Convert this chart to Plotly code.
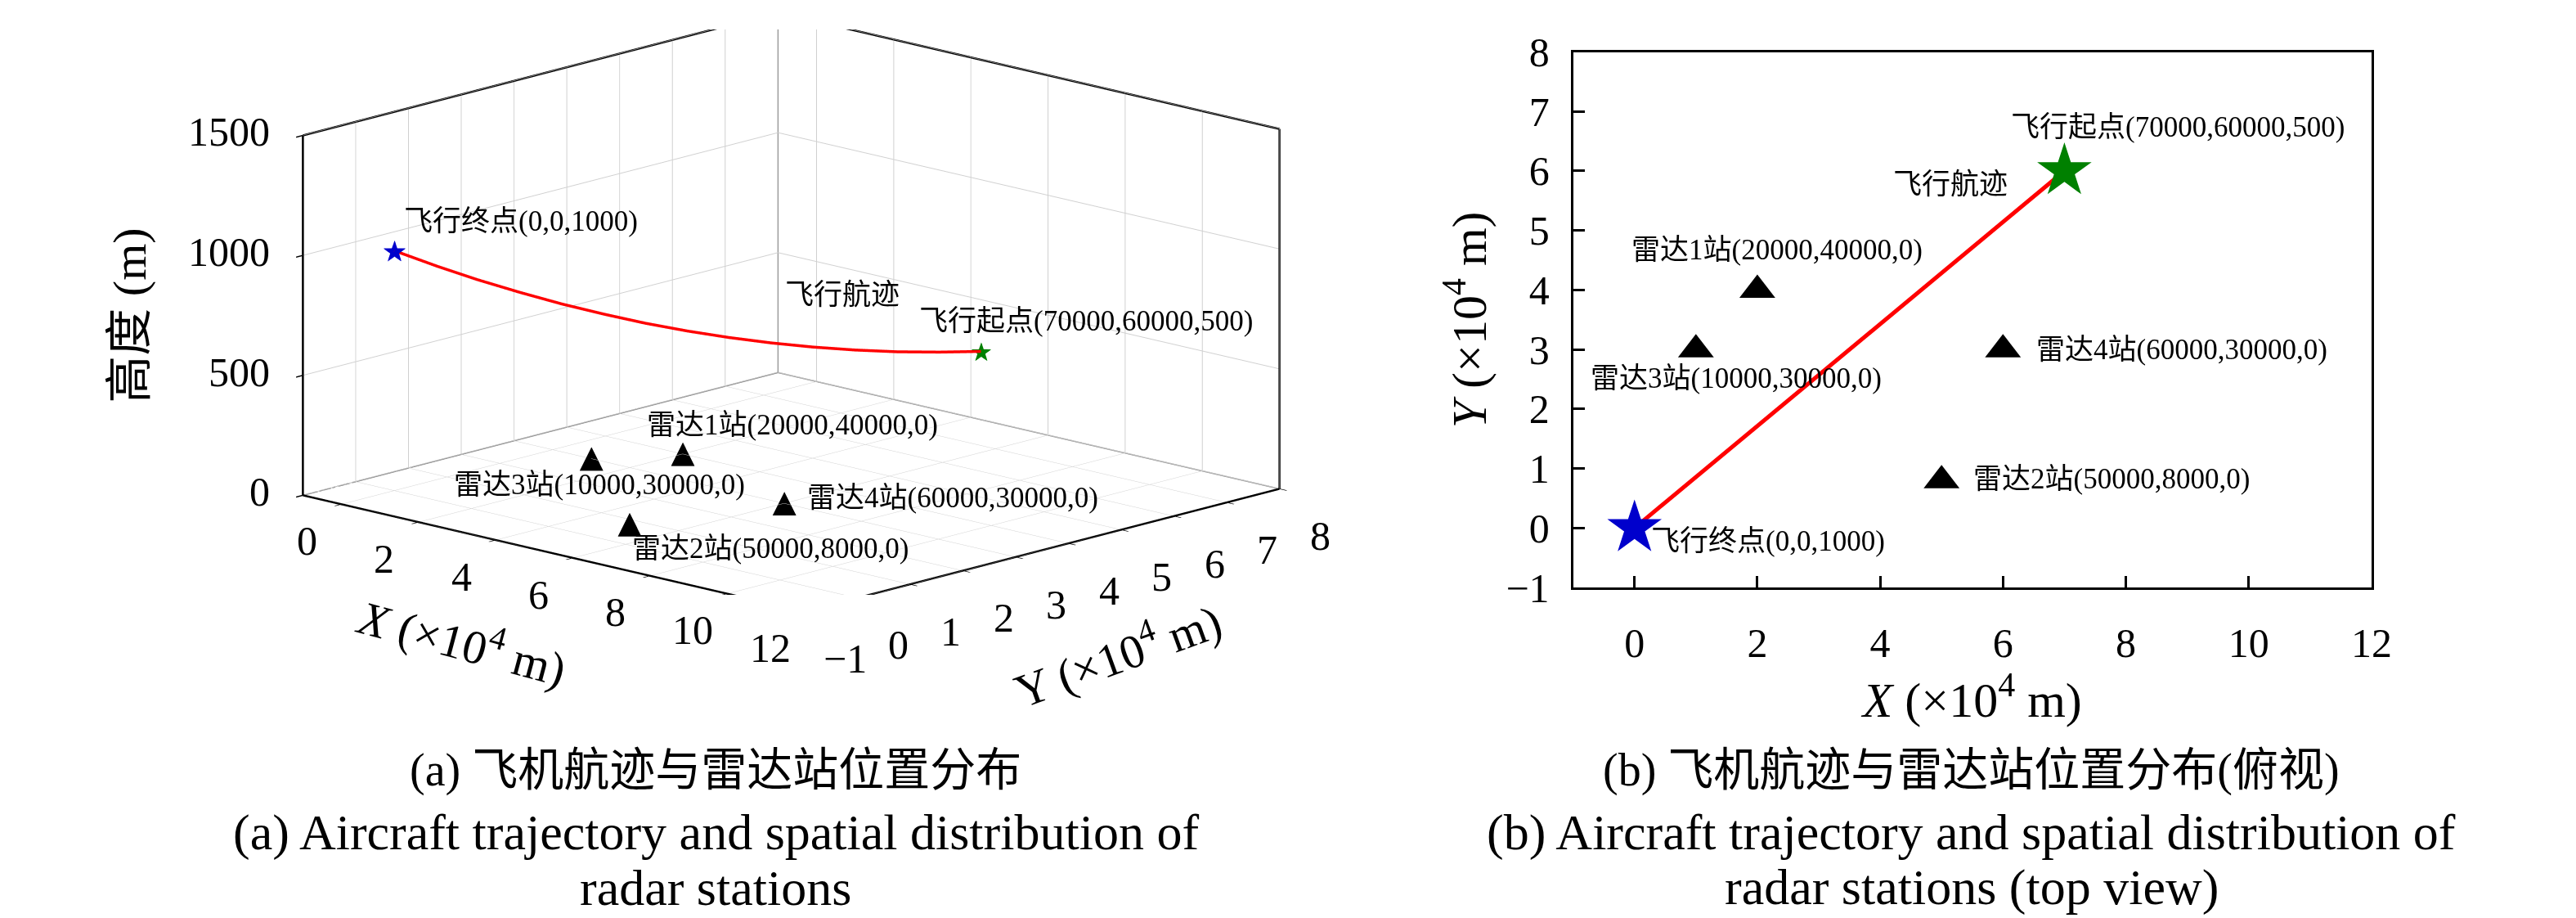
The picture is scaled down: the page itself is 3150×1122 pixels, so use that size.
import numpy as np
import plotly.graph_objects as go

# flight track (m), sampled along the path, end point first
track_x = [0, 5000, 10000, 15000, 20000, 25000, 30000, 35000,
           40000, 45000, 50000, 55000, 60000, 65000, 70000]
track_y = [0, 4286, 8571, 12857, 17143, 21429, 25714, 30000,
           34286, 38571, 42857, 47143, 51429, 55714, 60000]
track_z = [1000, 931, 867, 809, 755, 707, 663, 625,
           592, 564, 541, 523, 510, 503, 500]

radar_names = ["雷达1站", "雷达2站", "雷达3站", "雷达4站"]
radar_x = [20000, 50000, 10000, 60000]
radar_y = [40000, 8000, 30000, 30000]
radar_z = [0, 0, 0, 0]

x_range = [-1, 12]
y_range = [-1, 8]
z_range = [0, 1500]
x_ticks = [0, 2, 4, 6, 8, 10, 12]
y_ticks = [-1, 0, 1, 2, 3, 4, 5, 6, 7, 8]
z_ticks = [0, 500, 1000, 1500]

FONT = "Liberation Serif, Noto Sans CJK SC, serif"
SCALE = 1e4

tx = np.array(track_x) / SCALE
ty = np.array(track_y) / SCALE
tz = np.array(track_z)
rx = np.array(radar_x) / SCALE
ry = np.array(radar_y) / SCALE
rz = np.array(radar_z)

end_label = "飞行终点(%d,%d,%d)" % (track_x[0], track_y[0], track_z[0])
start_label = "飞行起点(%d,%d,%d)" % (track_x[-1], track_y[-1], track_z[-1])
radar_labels = ["%s(%d,%d,%d)" % (n, a, b, c)
                for n, a, b, c in zip(radar_names, radar_x, radar_y, radar_z)]


def tick_text(v):
    return str(v).replace("-", "−")


fig = go.Figure()

# ---------- 3D panel ----------
x0, x1 = x_range
y0, y1 = y_range
z0, z1 = z_range
black_edges = [
    ([x0, x0], [y0, y0], [z0, z1]),
    ([x1, x1], [y1, y1], [z0, z1]),
    ([x0, x0, x1], [y0, y1, y1], [z1, z1, z1]),
]
gray_edges = [
    ([x0, x0], [y1, y1], [z0, z1]),
    ([x0, x0, x1], [y0, y1, y1], [z0, z0, z0]),
]
for ex, ey, ez in gray_edges:
    fig.add_trace(go.Scatter3d(x=ex, y=ey, z=ez, mode="lines",
                               line=dict(color="#808080", width=3),
                               hoverinfo="skip", showlegend=False))
for ex, ey, ez in black_edges:
    fig.add_trace(go.Scatter3d(x=ex, y=ey, z=ez, mode="lines",
                               line=dict(color="black", width=5),
                               hoverinfo="skip", showlegend=False))

fig.add_trace(go.Scatter3d(x=tx, y=ty, z=tz, mode="lines",
                           line=dict(color="#ff0000", width=7),
                           hoverinfo="skip", showlegend=False))
glyph = dict(mode="text", textposition="middle center", hoverinfo="skip", showlegend=False)
fig.add_trace(go.Scatter3d(x=rx, y=ry, z=rz, text=["▲"] * len(rx),
                           textfont=dict(size=38, color="black", family="DejaVu Sans"), **glyph))
fig.add_trace(go.Scatter3d(x=[tx[0]], y=[ty[0]], z=[tz[0]], text=["★"],
                           textfont=dict(size=36, color="#0000cc", family="DejaVu Sans"), **glyph))
fig.add_trace(go.Scatter3d(x=[tx[-1]], y=[ty[-1]], z=[tz[-1]], text=["★"],
                           textfont=dict(size=32, color="#008000", family="DejaVu Sans"), **glyph))

lab_font = dict(family=FONT, size=35, color="black")
tick_font = dict(family=FONT, size=50, color="black")
title_font = dict(family=FONT, size=58, color="black")

# label offsets in pixels: (xanchor, xshift, yshift)
radar_lab_3d = [("left", -46, 35), ("left", 1, -30), ("center", 10, -32), ("left", 26, 6)]
scene_ann = [
    dict(x=tx[0], y=ty[0], z=tz[0], text=end_label, showarrow=False,
         xanchor="left", xshift=10, yshift=36, font=lab_font),
    dict(x=tx[-1], y=ty[-1], z=tz[-1], text=start_label, showarrow=False,
         xanchor="left", xshift=-77, yshift=37, font=lab_font),
    dict(x=tx[10], y=ty[10], z=tz[10], text="飞行航迹", showarrow=False,
         xanchor="center", xshift=35, yshift=64, font=lab_font),
]
for i, (anc, dx, dy) in enumerate(radar_lab_3d):
    scene_ann.append(dict(x=rx[i], y=ry[i], z=rz[i], text=radar_labels[i], showarrow=False,
                          xanchor=anc, xshift=dx, yshift=dy, font=lab_font))

# tick labels and axis titles of the 3D box (placed on the front edges)
for v in x_ticks:
    scene_ann.append(dict(x=v, y=y0, z=z0, text=tick_text(v), showarrow=False,
                          xshift=-42, yshift=-45, font=tick_font))
for v in y_ticks:
    scene_ann.append(dict(x=x1, y=v, z=z0, text=tick_text(v), showarrow=False,
                          xshift=50, yshift=-58, font=tick_font))
for v in z_ticks:
    scene_ann.append(dict(x=x0, y=y0, z=v, text=tick_text(v), showarrow=False,
                          xanchor="right", xshift=-38, yshift=4, font=tick_font))
scene_ann += [
    dict(x=(x0 + x1) / 2, y=y0, z=z0, text="<i>X</i> (×10<sup>4</sup> m)", showarrow=False,
         textangle=15, xshift=-111, yshift=-106, font=title_font),
    dict(x=x1, y=(y0 + y1) / 2, z=z0, text="Y (×10<sup>4</sup> m)", showarrow=False,
         textangle=-20, xshift=92, yshift=-126, font=title_font),
    dict(x=x0, y=y0, z=(z0 + z1) / 2, text="高度 (m)", showarrow=False,
         textangle=-90, xshift=-212, yshift=0, font=title_font),
]

axis3d = dict(showbackground=False, gridcolor="#d0d0d0", gridwidth=2,
              zeroline=False, showline=True, linecolor="black", linewidth=5,
              ticks="inside", ticklen=12, tickwidth=3, tickcolor="black",
              showticklabels=False, title=dict(text=""),
              showspikes=False)
el = np.radians(14.16)
az = np.radians(43.45)
dist = 4.0
zoom = 2.445
eye = dict(x=dist * np.sin(az) * np.cos(el),
           y=-dist * np.cos(az) * np.cos(el),
           z=dist * np.sin(el))

fig.update_layout(scene=dict(
    domain=dict(x=[0.0, 0.614], y=[0.3521, 1.0]),
    xaxis=dict(axis3d, range=x_range, tickvals=x_ticks),
    yaxis=dict(axis3d, range=y_range, tickvals=y_ticks),
    zaxis=dict(axis3d, range=z_range, tickvals=z_ticks),
    aspectmode="manual", aspectratio=dict(x=zoom, y=zoom, z=0.537 * zoom),
    camera=dict(eye=eye, center=dict(x=0, y=0, z=0),
                projection=dict(type="orthographic")),
    annotations=scene_ann,
))

# ---------- top view ----------
fig.add_trace(go.Scatter(x=tx, y=ty, mode="lines", line=dict(color="#ff0000", width=5),
                         hoverinfo="skip", showlegend=False, xaxis="x", yaxis="y"))
fig.add_trace(go.Scatter(x=rx, y=ry, mode="markers",
                         marker=dict(symbol="triangle-up", size=38, color="black"),
                         hoverinfo="skip", showlegend=False))
fig.add_trace(go.Scatter(x=[tx[0]], y=[ty[0]], mode="markers",
                         marker=dict(symbol="star", size=50, color="#0000cc", line=dict(width=0)),
                         hoverinfo="skip", showlegend=False))
fig.add_trace(go.Scatter(x=[tx[-1]], y=[ty[-1]], mode="markers",
                         marker=dict(symbol="star", size=50, color="#008000", line=dict(width=0)),
                         hoverinfo="skip", showlegend=False))

radar_lab_2d = [("left", -156, 49), ("left", 37, 2), ("left", -131, -35), ("left", 39, 0)]
anns = [
    dict(x=tx[0], y=ty[0], xref="x", yref="y", text=end_label, showarrow=False,
         xanchor="left", xshift=18, yshift=-16, font=lab_font),
    dict(x=tx[-1], y=ty[-1], xref="x", yref="y", text=start_label, showarrow=False,
         xanchor="left", xshift=-67, yshift=53, font=lab_font),
    dict(x=tx[-1], y=ty[-1], xref="x", yref="y", text="飞行航迹", showarrow=False,
         xanchor="center", xshift=-139, yshift=-17, font=lab_font),
]
for i, (anc, dx, dy) in enumerate(radar_lab_2d):
    anns.append(dict(x=rx[i], y=ry[i], xref="x", yref="y", text=radar_labels[i],
                     showarrow=False, xanchor=anc, xshift=dx, yshift=dy, font=lab_font))

cn_cap = dict(family=FONT, size=56, color="black")
en_cap = dict(family=FONT, size=62, color="black")
captions = [
    (0.2775, 953, "(a) 飞机航迹与雷达站位置分布", cn_cap),
    (0.2775, 1033, "(a) Aircraft trajectory and spatial distribution of", en_cap),
    (0.2775, 1104, "radar stations", en_cap),
    (0.7689, 953, "(b) 飞机航迹与雷达站位置分布(俯视)", cn_cap),
    (0.7689, 1033, "(b) Aircraft trajectory and spatial distribution of", en_cap),
    (0.7689, 1104, "radar stations (top view)", en_cap),
]
for cx, cy, txt, f in captions:
    anns.append(dict(x=cx, y=1 - cy / 1122, xref="paper", yref="paper", text=txt,
                     showarrow=False, xanchor="center", yanchor="middle", font=f))

axis2d = dict(showline=True, linecolor="black", linewidth=3, mirror=True,
              ticks="inside", ticklen=14, tickwidth=3, tickcolor="black",
              showgrid=False, zeroline=False, tickfont=tick_font)
fig.update_layout(
    xaxis=dict(axis2d, domain=[0.6130, 0.9254], range=x_range, tickvals=x_ticks,
               ticklabelstandoff=22,
               title=dict(text="<i>X</i> (×10<sup>4</sup> m)", font=dict(title_font, size=60),
                          standoff=16)),
    yaxis=dict(axis2d, domain=[0.3601, 0.9742], range=y_range, tickvals=y_ticks,
               ticklabelstandoff=16,
               title=dict(text="<i>Y</i> (×10<sup>4</sup> m)", font=dict(title_font, size=60),
                          standoff=5)),
    annotations=anns,
    width=3150, height=1122,
    margin=dict(l=0, r=0, t=0, b=0, pad=0),
    paper_bgcolor="white", plot_bgcolor="white",
    font=dict(family=FONT, color="black"),
    showlegend=False,
)

fig.write_html("out.html")
